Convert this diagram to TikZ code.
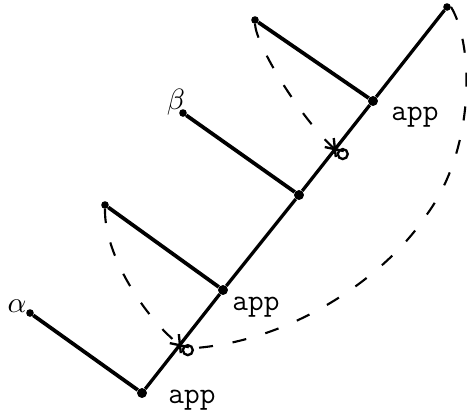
\documentclass[tikz,border=0pt]{standalone}
\usepackage{amsmath,amssymb}
\usepackage{fontspec}
\usepackage{tikz}
\usetikzlibrary{positioning,calc}

\tikzset{
	dot/.style={circle,fill,inner sep=0pt,minimum size=8.5pt},
	leafdot/.style={circle,fill,inner sep=0pt,minimum size=6.5pt},
	edge/.style={line width=3.2pt},
	spine/.style={line width=2.8pt},
	arc/.style={line width=1.8pt,dash pattern=on 12pt off 17pt},
	lbl/.style={font=\ttfamily\fontsize{26}{30}\selectfont,anchor=base},
	greek/.style={scale=2.5},
	snip/.pic={
		\draw[line width=2pt] (-10,-2)--(9,2) (-1,-11)--(1,8);
		\draw[line width=2pt] (8,5) circle (5);
	}
}

\begin{document}
\begin{tikzpicture}[x=0.03cm,y=-0.03cm]
		
		\useasboundingbox (0,0) rectangle (467,411);
		
		% Spine
		\node[dot] (root) at (142,393){};
		\node[dot] (a1) at (223,290){};
		\node[dot] (a2) at (299,195){};
		\node[dot] (a3) at (373,101){};
		\node[leafdot] (top) at (447,7){};
		
		\draw[spine] (root)--(a1)--(a2)--(a3)--(top);
		
		% Leaves
		\node[leafdot] (la) at (30,313){};
		\node[leafdot] (lb) at (105,205){};
		\node[leafdot] (lc) at (183,113){};
		\node[leafdot] (ld) at (255,20){};
		
		\draw[edge] (la)--(root);
		\draw[edge] (lb)--(a1);
		\draw[edge] (lc)--(a2);
		\draw[edge] (ld)--(a3);
		
		% Labels
		\node[greek] (alpha) at (17,306){$\alpha$};
		\node[greek] (beta) at (176,102){$\beta$};
		\node[lbl] (app0) at (192,403){app};
		\node[lbl] (app1) at (256,310){app};
		\node[lbl] (app3) at (415,120){app};
		
		% Cut marks
		\coordinate (x1) at ($(root)!0.124!(top)$);
		\coordinate (x2) at ($(root)!0.632!(top)$);
		\pic at (x1) {snip};
		\pic at (x2) {snip};
		\coordinate (c1) at ($(x1)+(14,3)$);
		
		% Dashed arcs
		\draw[arc] (lb.south) .. controls (104,255) and (145,318) .. (x1);
		\draw[arc] (ld.south) .. controls (256,45) and (300,118) .. (x2);
		\draw[arc] (top.east) .. controls (474,45) and (476,150) .. (425,217)
		.. controls (390,270) and (300,340) .. (c1);
		
	\end{tikzpicture}
\end{document}
